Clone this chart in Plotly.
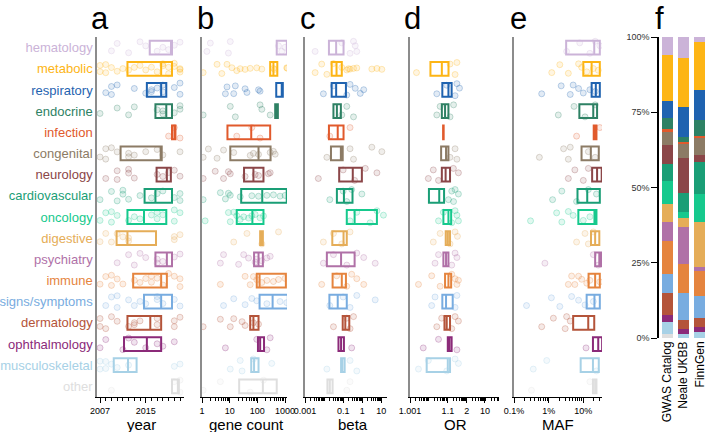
import plotly.graph_objects as go


# ==========================================
# DATA
# ==========================================

categories = [
    "hematology", "metabolic", "respiratory", "endocrine", "infection",
    "congenital", "neurology", "cardiovascular", "oncology", "digestive",
    "psychiatry", "immune", "signs/symptoms", "dermatology",
    "ophthalmology", "musculoskeletal", "other"
]

colors = [
    "#cbb3d8", "#fdb515", "#1f63b0", "#2e8164", "#e15a2c",
    "#8c7b65", "#8b4648", "#1a9e76", "#16c98d", "#e5ad58",
    "#b071a7", "#e5843e", "#78ace0", "#b4543a",
    "#8b2a79", "#a7d1e6", "#dedede"
]

# box stats (q1, median, q3), one value per category
year_q1 = [2015.7, 2011.8, 2015.2, 2016.7, 2019.6, 2010.6, 2016.9, 2014.8, 2011.8,
           2009.9, 2016.7, 2012.8, 2014.7, 2011.8, 2011.2, 2009.4, 2019.6]
year_med = [2019.5, 2017.7, 2017.7, 2018.6, 2020.2, 2017.8, 2018.7, 2016.7, 2014.7,
            2011.8, 2018.7, 2017.7, 2017.7, 2015.8, 2015.2, 2011.9, 2020.8]
year_q3 = [2019.6, 2019.6, 2018.6, 2019.6, 2020.2, 2017.8, 2019.4, 2019.6, 2018.6,
           2016.8, 2019.6, 2018.7, 2019.6, 2017.7, 2017.7, 2013.4, 2020.8]

gene_q1 = [500, 290, 480, 440, 8.3, 10.5, 33, 26, 18, 126, 76, 95, 120, 55, 105, 60, 22]
gene_med = [1175, 380, 760, 500, 60, 110, 72, 150, 66, 141, 110, 120, 355, 72, 126, 76, 158]
gene_q3 = [1260, 525, 830, 550, 290, 300, 166, 1150, 166, 158, 158, 1070, 1260, 110, 174, 110, 500]

beta_q1 = [0.018, 0.025, 0.025, 0.031, 0.018, 0.023, 0.062, 0.047, 0.155,
           0.027, 0.014, 0.028, 0.019, 0.095, 0.057, 0.078, 0.015]
beta_med = [0.043, 0.045, 0.043, 0.047, 0.052, 0.076, 0.32, 0.11, 0.40,
            0.105, 0.078, 0.085, 0.052, 0.13, 0.078, 0.09, 0.02]
beta_q3 = [0.105, 0.085, 0.14, 0.076, 0.105, 0.095, 0.96, 0.31, 5.9,
           0.155, 0.40, 0.14, 0.155, 0.21, 0.11, 0.12, 0.028]

or_q1 = [None, 1.012, 1.051, 1.048, 1.056, 1.044, 1.048, 1.010, 1.058,
         1.077, 1.058, 1.071, 1.051, 1.066, 1.099, 1.0076, None]
or_med = [None, 1.048, 1.107, 1.071, 1.058, 1.080, 1.076, 1.035, 1.107,
          1.100, 1.080, 1.107, 1.080, 1.087, 1.120, 1.099, None]
or_q3 = [None, 1.108, 1.158, 1.107, 1.060, 1.107, 1.130, 1.063, 1.149,
         1.130, 1.107, 1.149, 1.180, 1.130, 1.158, 1.130, None]

maf_q1 = [0.032, 0.10, 0.174, 0.077, 0.20, 0.089, 0.18, 0.068, 0.072,
          0.167, 0.22, 0.142, 0.125, 0.051, 0.19, 0.084, 0.19]
maf_med = [0.207, 0.174, 0.23, 0.194, 0.22, 0.165, 0.25, 0.13, 0.21,
           0.22, 0.29, 0.22, 0.21, 0.139, 0.27, 0.19, 0.22]
maf_q3 = [0.30, 0.30, 0.30, 0.25, 0.24, 0.28, 0.34, 0.30, 0.24,
          0.29, 0.33, 0.30, 0.30, 0.207, 0.35, 0.28, 0.24]

# individual traits (faint dots)
year_points = {
    "hematology": [2009, 2010, 2012, 2014, 2015, 2017, 2018, 2019, 2020, 2021],
    "metabolic": [2007, 2007, 2008, 2008, 2009, 2010, 2011, 2012, 2013, 2014, 2015,
                  2016, 2017, 2018, 2018, 2019, 2019, 2020, 2020, 2021, 2021, 2021],
    "respiratory": [2008, 2009, 2009, 2010, 2013, 2015, 2016, 2016, 2017, 2018, 2018,
                    2020, 2021, 2021],
    "endocrine": [2007, 2010, 2012, 2013, 2017, 2018, 2018, 2020, 2021, 2021],
    "infection": [2019, 2020, 2021],
    "congenital": [2007, 2008, 2008, 2009, 2010, 2012, 2012, 2013, 2015, 2017, 2018, 2021],
    "neurology": [2008, 2010, 2010, 2012, 2012, 2013, 2017, 2018, 2019, 2020, 2021],
    "cardiovascular": [2007, 2009, 2010, 2011, 2011, 2012, 2014, 2016, 2017, 2018,
                       2020, 2021, 2021],
    "oncology": [2007, 2008, 2009, 2009, 2010, 2012, 2013, 2014, 2016, 2017, 2017,
                 2018, 2020, 2020, 2021],
    "digestive": [2007, 2008, 2009, 2010, 2011, 2012, 2012, 2020, 2020, 2021],
    "psychiatry": [2010, 2012, 2013, 2014, 2015, 2017, 2017, 2018, 2020, 2021],
    "immune": [2007, 2008, 2009, 2009, 2010, 2011, 2013, 2014, 2015, 2016, 2016,
               2017, 2018, 2019, 2020, 2021, 2021],
    "signs/symptoms": [2008, 2009, 2010, 2010, 2012, 2013, 2014, 2015, 2017, 2017,
                       2018, 2020, 2021],
    "dermatology": [2007, 2007, 2008, 2009, 2010, 2012, 2013, 2013, 2014, 2017, 2017,
                    2020, 2020, 2021],
    "ophthalmology": [2007, 2008, 2011, 2012, 2013, 2015, 2017, 2018, 2020],
    "musculoskeletal": [2007, 2007, 2008, 2008, 2009, 2010, 2012, 2020, 2021],
    "other": [2009, 2020, 2021, 2021],
}

gene_points = {
    "hematology": [1.5, 2, 9, 10.5, 580, 760, 1000],
    "metabolic": [1.1, 3.5, 5.2, 8, 12, 18, 24, 36, 55, 95, 145, 380, 420, 1150, 1200],
    "respiratory": [7, 8, 14, 16, 36, 42, 110, 125],
    "endocrine": [1.1, 10.5, 16, 125, 145, 290],
    "infection": [18, 63, 125],
    "congenital": [1.1, 1.7, 3.5, 6, 14, 55, 72, 110, 290, 380, 440],
    "neurology": [1.1, 3, 6, 9, 10.5, 36, 83, 110, 250, 290],
    "cardiovascular": [1.1, 4.6, 7, 9, 10.5, 24, 63, 110, 220, 380, 660, 1000],
    "oncology": [1.3, 9, 10.5, 14, 18, 24, 32, 48, 63, 83, 125, 166],
    "digestive": [14, 42, 145, 580],
    "psychiatry": [4.6, 6, 21, 32, 48, 83, 95, 145, 220, 290],
    "immune": [4.6, 36, 55, 72, 95, 145, 220, 380, 580, 1000],
    "signs/symptoms": [6, 14, 36, 63, 95, 220, 660, 1150],
    "dermatology": [1.1, 4.6, 10.5, 14, 28, 36, 72, 110],
    "ophthalmology": [7, 95, 220, 290],
    "musculoskeletal": [10.5, 24, 28, 72, 330],
    "other": [1.1, 4.6, 55, 166],
}

beta_points = {
    "hematology": [0.0034, 0.085, 0.23, 0.35, 0.43, 0.52],
    "metabolic": [0.0034, 0.0075, 0.014, 0.031, 0.085, 0.155, 0.19, 0.23, 0.35, 0.52,
                  3.2, 5.9, 10.7],
    "respiratory": [0.0092, 0.031, 0.155, 0.23, 0.43, 0.79, 1.2],
    "endocrine": [0.085, 0.155, 0.35],
    "infection": [0.02, 0.23],
    "congenital": [0.014, 0.23, 0.35, 3.2, 10.7],
    "neurology": [0.005, 0.1, 0.4, 1.45, 5.9],
    "cardiovascular": [0.02, 0.1, 0.155, 0.28, 0.96],
    "oncology": [0.23, 0.52, 2.6, 5.9, 13],
    "digestive": [0.0092, 0.031, 0.085, 0.23],
    "psychiatry": [0.0092, 0.031, 0.155, 0.52, 1.2, 4.8],
    "immune": [0.0075, 0.046, 0.155, 0.28, 0.52, 1.2],
    "signs/symptoms": [0.02, 0.1, 0.23, 0.52, 4.8],
    "dermatology": [0.031, 0.155, 0.23, 0.35],
    "ophthalmology": [0.28],
    "musculoskeletal": [0.014, 0.23, 0.52],
    "other": [0.155, 0.23],
}

or_points = {
    "metabolic": [1.0022, 1.13, 1.24, 1.30],
    "respiratory": [1.026, 1.087, 1.24, 1.30, 1.41],
    "endocrine": [1.026, 1.039, 1.13, 1.2],
    "congenital": [1.13, 1.24, 1.30],
    "neurology": [1.0093, 1.017, 1.032, 1.195, 1.36],
    "cardiovascular": [1.107, 1.16, 1.2, 1.24, 1.36],
    "oncology": [1.032, 1.058, 1.16, 1.24, 1.30, 1.36],
    "digestive": [1.017, 1.039, 1.13, 1.24, 1.32],
    "psychiatry": [1.021, 1.032, 1.16, 1.24, 1.30],
    "immune": [1.0028, 1.014, 1.039, 1.16, 1.24, 1.30, 1.36],
    "signs/symptoms": [1.014, 1.021, 1.24, 1.30],
    "dermatology": [1.026, 1.047, 1.16, 1.24, 1.36],
    "ophthalmology": [1.005, 1.032, 1.30],
    "musculoskeletal": [1.0028, 1.0093, 1.087, 1.24, 1.36],
}

maf_points = {
    "hematology": [0.033, 0.079, 0.155, 0.22, 0.30],
    "metabolic": [0.0123, 0.021, 0.037, 0.073, 0.09, 0.126, 0.195, 0.27],
    "respiratory": [0.0063, 0.023, 0.042, 0.051, 0.073, 0.10, 0.155, 0.22],
    "endocrine": [0.019, 0.054, 0.112, 0.22],
    "infection": [0.064, 0.30],
    "congenital": [0.0054, 0.027, 0.037, 0.042, 0.14, 0.22],
    "neurology": [0.037, 0.057, 0.10, 0.14],
    "cardiovascular": [0.013, 0.024, 0.064, 0.14, 0.24],
    "oncology": [0.003, 0.017, 0.024, 0.037, 0.051, 0.10, 0.155],
    "digestive": [0.064, 0.112, 0.14, 0.195],
    "psychiatry": [0.0078, 0.195, 0.27],
    "immune": [0.037, 0.046, 0.057, 0.073, 0.09, 0.126, 0.155, 0.30],
    "signs/symptoms": [0.0023, 0.012, 0.021, 0.046, 0.073, 0.112, 0.195],
    "dermatology": [0.0063, 0.0137, 0.03, 0.033, 0.042],
    "ophthalmology": [0.12],
    "musculoskeletal": [0.0036, 0.0088, 0.24],
    "other": [0.0032, 0.155],
}

# share of traits per category (%), panel f
datasets = ["GWAS Catalog", "Neale UKBB", "FinnGen"]
share_gwas = [6.1, 15.0, 5.8, 3.8, 0.7, 4.6, 6.3, 5.5, 7.7, 5.9, 6.5, 10.8, 6.4, 7.4, 2.1, 4.0, 1.4]
share_neale = [7.0, 16.3, 10.0, 1.6, 0.6, 4.8, 11.5, 6.3, 2.1, 2.8, 12.5, 9.4, 9.0, 3.0, 1.7, 1.4, 0]
share_finngen = [1.8, 15.7, 10.0, 5.4, 0.7, 5.5, 2.3, 10.8, 9.4, 14.8, 1.3, 8.5, 7.0, 3.1, 1.6, 2.1, 0]


def rgba(hex_color, alpha):
    h = hex_color.lstrip("#")
    return "rgba(%d,%d,%d,%s)" % (int(h[0:2], 16), int(h[2:4], 16), int(h[4:6], 16), alpha)


def excess(v):
    # OR axis is drawn as log(OR - 1)
    return None if v is None else v - 1


# ==========================================
# FIGURE
# ==========================================

fig = go.Figure()

panels = [
    ("x", "y", year_points, year_q1, year_med, year_q3, None),
    ("x2", "y2", gene_points, gene_q1, gene_med, gene_q3, None),
    ("x3", "y3", beta_points, beta_q1, beta_med, beta_q3, None),
    ("x4", "y4", or_points, or_q1, or_med, or_q3, excess),
    ("x5", "y5", maf_points, maf_q1, maf_med, maf_q3, None),
]

for xa, ya, points, q1s, meds, q3s, tf in panels:

    for i, cat in enumerate(categories):

        c = colors[i]
        vals = points.get(cat, [])
        if tf:
            vals = [tf(v) for v in vals]

        if vals:
            fig.add_trace(go.Box(
                x=vals,
                y=[cat] * len(vals),
                orientation="h",
                boxpoints="all",
                jitter=1,
                pointpos=0,
                width=0.7,
                line=dict(width=0, color="rgba(0,0,0,0)"),
                fillcolor="rgba(0,0,0,0)",
                marker=dict(size=6, color=rgba(c, 0.13),
                            line=dict(width=1, color=rgba(c, 0.28))),
                xaxis=xa, yaxis=ya,
                showlegend=False
            ))

        if q1s[i] is None:
            continue

        q1, med, q3 = q1s[i], meds[i], q3s[i]
        if tf:
            q1, med, q3 = tf(q1), tf(med), tf(q3)

        fig.add_trace(go.Box(
            y=[cat],
            q1=[q1], median=[med], q3=[q3],
            lowerfence=[q1], upperfence=[q3],
            orientation="h",
            boxpoints=False,
            width=0.65,
            whiskerwidth=0,
            line=dict(color=c, width=2),
            fillcolor="rgba(0,0,0,0)",
            xaxis=xa, yaxis=ya,
            showlegend=False
        ))

# stacked bars, bottom = last category
shares = list(zip(share_gwas, share_neale, share_finngen))
for i in reversed(range(len(categories))):
    fig.add_trace(go.Bar(
        x=datasets,
        y=list(shares[i]),
        marker=dict(color=colors[i], line=dict(width=0)),
        width=0.66,
        xaxis="x6", yaxis="y6",
        showlegend=False,
        name=categories[i]
    ))

# ==========================================
# AXES
# ==========================================

W, H = 708, 432
font = "Liberation Sans, Arial, sans-serif"

ticktext = ["<span style='color:%s'>%s</span>" % (colors[i], c) for i, c in enumerate(categories)]

xdefs = [
    dict(px=(97, 184), type="linear", range=[2006.47, 2021.7],
         tickvals=[2007, 2015], ticktext=["2007", "2015"], minor=dict(dtick=1)),
    dict(px=(202, 287), type="log", range=[0, 3.07],
         tickvals=[1, 10, 100, 1000], ticktext=["1", "10", "100", "1000"], minor=dict(dtick="D1")),
    dict(px=(305, 387), type="log", range=[-3, 1.3],
         tickvals=[0.001, 0.1, 1, 10], ticktext=["0.001", "0.1", "1", "10"], minor=dict(dtick="D1")),
    dict(px=(410, 499), type="log", range=[-3, 1.7],
         tickvals=[0.001, 0.1, 1, 9], ticktext=["1.001", "1.1", "2", "10"], minor=dict(dtick="D1")),
    dict(px=(514, 602), type="log", range=[-3, -0.46],
         tickvals=[0.001, 0.01, 0.1], ticktext=["0.1%", "1%", "10%"], minor=dict(dtick="D1")),
]

layout_axes = {}
for k, d in enumerate(xdefs, start=1):
    sfx = "" if k == 1 else str(k)
    minor = dict(ticks="outside", ticklen=2.5, tickwidth=0.8, tickcolor="black", showgrid=False)
    minor.update(d["minor"])
    layout_axes["xaxis" + sfx] = dict(
        domain=[d["px"][0] / W, d["px"][1] / W],
        type=d["type"], range=d["range"],
        anchor="y" + sfx,
        showline=True, linecolor="black", linewidth=1,
        ticks="outside", ticklen=5, tickwidth=1, tickcolor="black",
        tickmode="array", tickvals=d["tickvals"], ticktext=d["ticktext"],
        tickfont=dict(size=9, color="black"),
        minor=minor,
        showgrid=False, zeroline=False, automargin=False
    )
    layout_axes["yaxis" + sfx] = dict(
        domain=[1 - 397 / H, 1 - 37 / H],
        type="category", categoryorder="array", categoryarray=categories,
        range=[16.5, -0.5],
        anchor="x" + sfx,
        showline=True, linecolor="#8c8c8c", linewidth=1.5,
        ticks="", showgrid=False, zeroline=False,
        showticklabels=(k == 1),
        tickmode="array", tickvals=categories, ticktext=ticktext,
        tickfont=dict(size=13),
        automargin=False
    )

layout_axes["xaxis6"] = dict(
    domain=[659 / W, 1.0], type="category", range=[-0.5, 2.5],
    anchor="y6", showline=False, ticks="", tickangle=-90,
    tickfont=dict(size=12, color="black"),
    showgrid=False, zeroline=False, automargin=False
)
layout_axes["yaxis6"] = dict(
    domain=[1 - 338 / H, 1 - 37 / H], range=[0, 100],
    anchor="x6", showline=True, linecolor="black", linewidth=1.5,
    ticks="outside", ticklen=6, tickwidth=1.2, tickcolor="black",
    tickmode="array", tickvals=[0, 25, 50, 75, 100],
    ticktext=["0%", "25%", "50%", "75%", "100%"],
    tickfont=dict(size=9, color="#333"),
    showgrid=False, zeroline=False, automargin=False
)

# ==========================================
# LABELS
# ==========================================

annotations = []
for letter, x in [("a", 100), ("b", 205), ("c", 308), ("d", 412), ("e", 518), ("f", 659)]:
    annotations.append(dict(
        text=letter, x=x / W, y=1.0, xref="paper", yref="paper",
        xanchor="center", yanchor="top", showarrow=False, borderpad=0,
        font=dict(size=31, color="black")
    ))

for title, x in [("year", 141), ("gene count", 246), ("beta", 353), ("OR", 455), ("MAF", 558)]:
    annotations.append(dict(
        text=title, x=x / W, y=1 - 424 / H, xref="paper", yref="paper",
        xanchor="center", yanchor="middle", showarrow=False, borderpad=0,
        font=dict(size=15, color="black")
    ))

fig.update_layout(
    width=W, height=H,
    margin=dict(l=0, r=0, t=0, b=0),
    paper_bgcolor="white", plot_bgcolor="white",
    font=dict(family=font, color="black"),
    boxmode="overlay", barmode="stack",
    showlegend=False,
    annotations=annotations,
    **layout_axes
)

# page body has a default 8px margin; drop it so the figure fills the window
fig.write_html(
    "out.html",
    config={"displayModeBar": False},
    post_script="document.body.style.margin='0';"
)
